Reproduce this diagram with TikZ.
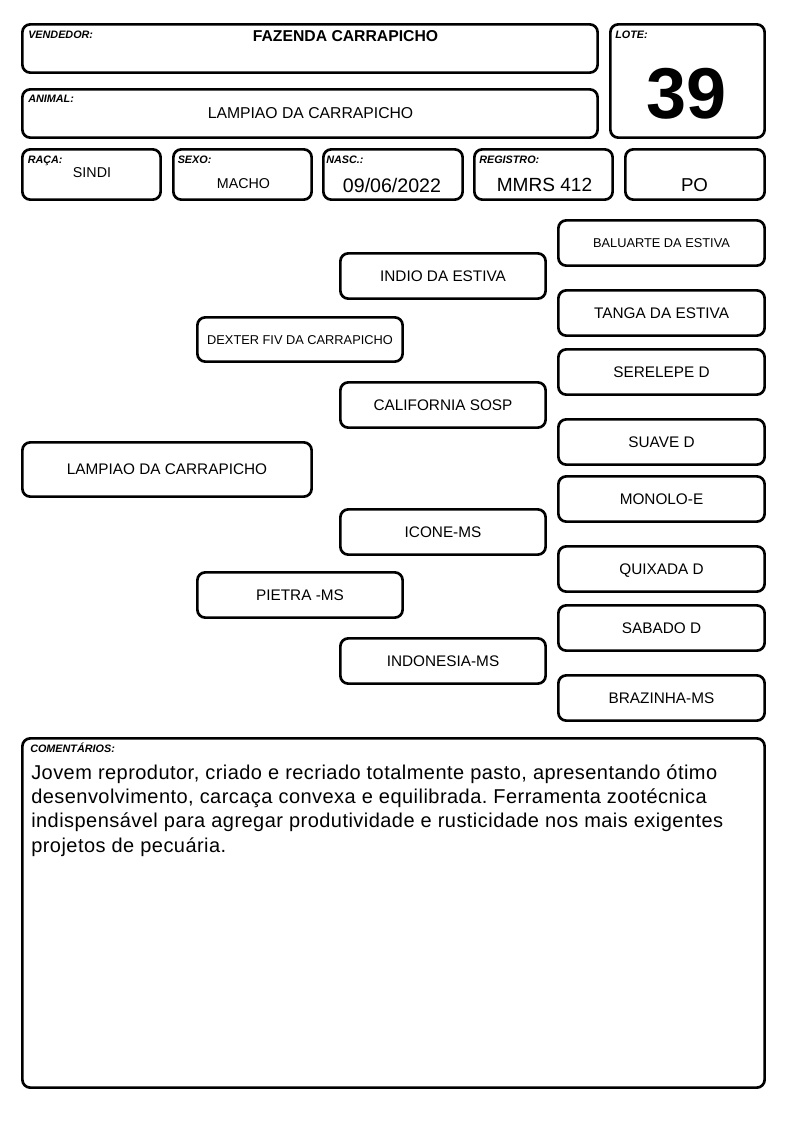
\documentclass[tikz,border=0pt]{standalone}
\usepackage{fontspec}
\setmainfont{Liberation Sans}
\newfontfamily\cmtfont[LetterSpace=2.3]{Liberation Sans}
\frenchspacing
\begin{document}
\begin{tikzpicture}[x=0.75pt,y=-0.75pt,
  box/.style={draw, line width=2pt, rounded corners=6pt, inner sep=0pt},
  lbl/.style={font=\fontsize{8.1pt}{9pt}\selectfont\bfseries\itshape, anchor=base west, inner sep=0pt},
  val/.style={anchor=base, inner sep=0pt},
  pbox/.style={box, minimum width={205.3*0.75pt}, minimum height={45.3*0.75pt},
    font=\fontsize{11.5pt}{13pt}\selectfont, text height=8.2pt, text depth=0pt, align=center},
  rbox/.style={pbox, minimum width={206.3*0.75pt}},
  small/.style={font=\fontsize{9.6pt}{11pt}\selectfont, text height=6.9pt}
]
\useasboundingbox (0,0) rectangle (794,1123);
% header boxes
\node[box, minimum width={575.3*0.75pt}, minimum height={48.3*0.75pt}] (vend) at (310,48.5) {};
\node[box, minimum width={154.3*0.75pt}, minimum height={113.3*0.75pt}] (lote) at (687.5,81) {};
\node[box, minimum width={575.3*0.75pt}, minimum height={48.3*0.75pt}] (anim) at (310,113.5) {};
\node[box, minimum width={138.3*0.75pt}, minimum height={50.3*0.75pt}] (raca) at (91.5,174.5) {};
\node[box, minimum width={138.3*0.75pt}, minimum height={50.3*0.75pt}] (sexo) at (242.5,174.5) {};
\node[box, minimum width={139.3*0.75pt}, minimum height={50.3*0.75pt}] (nasc) at (393,174.5) {};
\node[box, minimum width={138.3*0.75pt}, minimum height={50.3*0.75pt}] (reg) at (543.5,174.5) {};
\node[box, minimum width={139.3*0.75pt}, minimum height={50.3*0.75pt}] (po) at (695,174.5) {};
% labels
\node[lbl] (lvend) at (28,38.5) {VENDEDOR:};
\node[lbl] (lanim) at (28,103) {ANIMAL:};
\node[lbl] (lraca) at (27.5,163.5) {RAÇA:};
\node[lbl] (lsexo) at (177.5,164) {SEXO:};
\node[lbl] (lnasc) at (326,164) {NASC.:};
\node[lbl] (lreg) at (479,164) {REGISTRO:};
\node[lbl] (llote) at (615,38.5) {LOTE:};
% values
\node[val, font=\fontsize{11.8pt}{13pt}\selectfont\bfseries] (tvend) at (345.5,42) {FAZENDA CARRAPICHO};
\node[val, font=\fontsize{11.8pt}{13pt}\selectfont] (tanim) at (310.5,119) {LAMPIAO DA CARRAPICHO};
\node[val, font=\fontsize{10.7pt}{12pt}\selectfont] (traca) at (92,178) {SINDI};
\node[val, font=\fontsize{10.7pt}{12pt}\selectfont] (tsexo) at (243.5,189) {MACHO};
\node[val, font=\fontsize{14.7pt}{16pt}\selectfont] (tnasc) at (392,193) {09/06/2022};
\node[val, font=\fontsize{14.3pt}{16pt}\selectfont] (treg) at (544.5,192) {MMRS 412};
\node[val, font=\fontsize{14pt}{16pt}\selectfont] (tpo) at (694.5,192) {PO};
\node[val, font=\fontsize{54pt}{60pt}\selectfont\bfseries] (tlote) at (687,119) {39};
% pedigree
\node[pbox, minimum width={289.3*0.75pt}, minimum height={54.3*0.75pt}] (lamp) at (167,469.5) {LAMPIAO DA CARRAPICHO};
\node[pbox, small, minimum height={44.3*0.75pt}] (dexter) at (300,339.5) {DEXTER FIV DA CARRAPICHO};
\node[pbox] (pietra) at (300,595) {PIETRA -MS};
\node[pbox] (indio) at (443,276) {INDIO DA ESTIVA};
\node[pbox] (calif) at (443,405) {CALIFORNIA SOSP};
\node[pbox] (icone) at (443,532) {ICONE-MS};
\node[pbox] (indon) at (443,661) {INDONESIA-MS};
\node[rbox, small] (balu) at (661.5,243) {BALUARTE DA ESTIVA};
\node[rbox] (tanga) at (661.5,313) {TANGA DA ESTIVA};
\node[rbox] (sere) at (661.5,372) {SERELEPE D};
\node[rbox] (suave) at (661.5,442) {SUAVE D};
\node[rbox] (mono) at (661.5,499) {MONOLO-E};
\node[rbox] (quix) at (661.5,569) {QUIXADA D};
\node[rbox] (saba) at (661.5,628) {SABADO D};
\node[rbox] (braz) at (661.5,698) {BRAZINHA-MS};
% comments
\node[box, minimum width={742.3*0.75pt}, minimum height={349.3*0.75pt}] (com) at (393.5,913) {};
\node[lbl] (lcom) at (30,752) {COMENTÁRIOS:};
\node[anchor=base west, inner sep=0pt, align=left, font=\cmtfont\fontsize{15pt}{18.2pt}\selectfont] (tcom) at (31,852) {Jovem reprodutor, criado e recriado totalmente pasto, apresentando ótimo\\desenvolvimento, carcaça convexa e equilibrada. Ferramenta zootécnica\\indispensável para agregar produtividade e rusticidade nos mais exigentes\\projetos de pecuária.};
\end{tikzpicture}
\end{document}
